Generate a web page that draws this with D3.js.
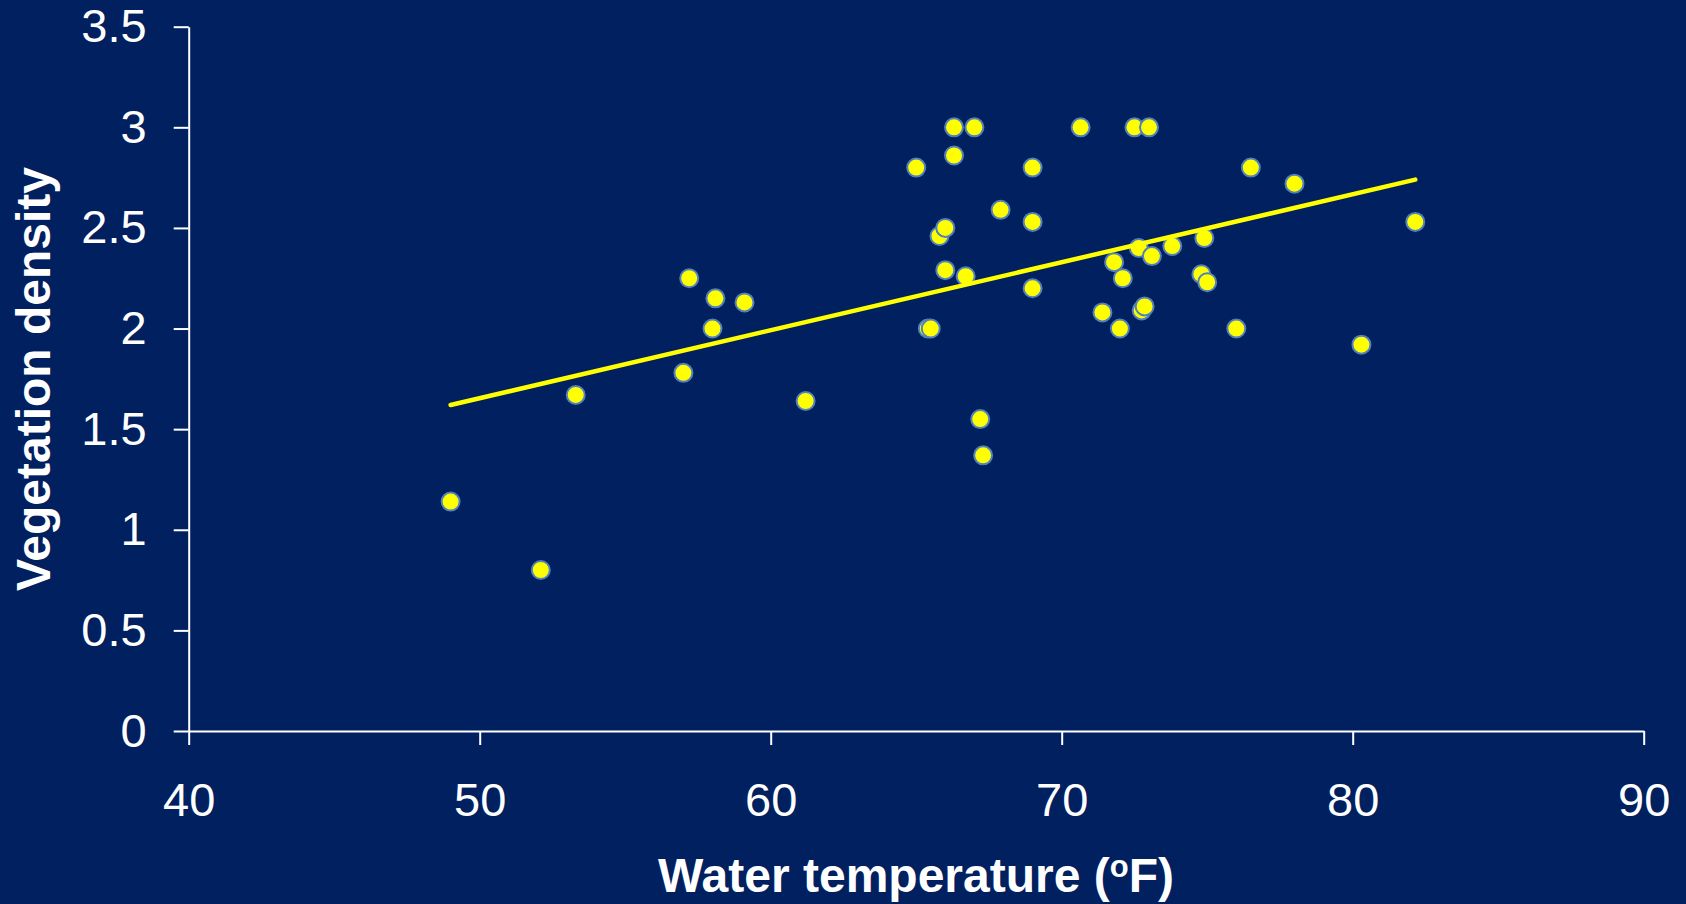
<!DOCTYPE html>
<meta charset="utf-8">
<script src="https://d3js.org/d3.v7.min.js"></script>
<style>
    body { margin: 0; background: #002060; }
    text { font-family: "Liberation Sans", Arial, sans-serif; fill: #ffffff; }
</style>

<svg width=1686 height=904></svg>

<script>
    // water temperature (F) and vegetation density
    var temps = [49.0, 52.1, 53.3, 57.0, 57.2, 58.0, 58.1, 59.1, 61.2,
        65.0, 65.4, 65.5, 65.8, 66.0, 66.0, 66.3, 66.3, 66.7, 67.0, 67.2, 67.3,
        67.9, 69.0, 69.0, 69.0, 70.65, 71.4, 71.8, 72.0, 72.1, 72.5, 72.65,
        72.75, 72.85, 73.0, 73.1, 73.8, 74.8, 74.9, 75.0, 76.0, 76.5, 78.0,
        80.3, 82.15];
    var density = [1.14, 0.80, 1.67, 1.78, 2.25, 2.00, 2.15, 2.13, 1.64,
        2.80, 2.00, 2.00, 2.46, 2.50, 2.29, 3.00, 2.86, 2.26, 3.00, 1.55, 1.37,
        2.59, 2.80, 2.53, 2.20, 3.00, 2.08, 2.33, 2.00, 2.25, 3.00, 2.40,
        2.09, 2.11, 3.00, 2.36, 2.41, 2.27, 2.45, 2.23, 2.00, 2.80, 2.72,
        1.92, 2.53];

    // linear trend line end points
    var trendX = [49.0, 82.15];
    var trendY = [1.62, 2.74];

    var xTicks = [40, 50, 60, 70, 80, 90];
    var yTicks = [0, 0.5, 1, 1.5, 2, 2.5, 3, 3.5];

    var plotLeft = 188.7, plotRight = 1643.7, plotTop = 26.7, plotBottom = 731;

    var x = d3.scaleLinear().domain([40, 90]).range([plotLeft, plotRight]);
    var y = d3.scaleLinear().domain([0, 3.5]).range([plotBottom, plotTop]);

    var svg = d3.select("svg");

    svg.append("rect")
        .attr("width", 1686)
        .attr("height", 904)
        .attr("fill", "#002060");

    svg.append("g")
        .attr("transform", "translate(" + plotLeft + ",0)")
        .call(d3.axisLeft(y)
            .tickValues(yTicks)
            .tickFormat(function(d) { return d; })
            .tickSize(15)
            .tickSizeOuter(0)
            .tickPadding(27));

    svg.append("g")
        .attr("transform", "translate(0," + plotBottom + ")")
        .call(d3.axisBottom(x)
            .tickValues(xTicks)
            .tickSize(14)
            .tickSizeOuter(0)
            .tickPadding(38));

    svg.selectAll(".domain, .tick line")
        .attr("stroke", "#ffffff")
        .attr("stroke-width", 2);
    svg.selectAll(".tick text")
        .attr("fill", "#ffffff")
        .style("font-family", "'Liberation Sans', Arial, sans-serif")
        .style("font-size", "47px");

    svg.selectAll("circle.pt")
        .data(temps)
        .enter()
        .append("circle")
        .attr("class", "pt")
        .attr("cx", function(d) { return x(d); })
        .attr("cy", function(d, i) { return y(density[i]); })
        .attr("r", 9)
        .attr("fill", "#ffff00")
        .attr("stroke", "#4f81bd")
        .attr("stroke-width", 2);

    var line = d3.line()
        .x(function(d) { return x(d); })
        .y(function(d, i) { return y(trendY[i]); });

    svg.append("path")
        .attr("d", line(trendX))
        .attr("fill", "none")
        .attr("stroke", "#ffff00")
        .attr("stroke-width", 4.5)
        .attr("stroke-linecap", "round");

    var xTitle = svg.append("text")
        .attr("x", 916)
        .attr("y", 892)
        .attr("text-anchor", "middle")
        .style("font-size", "48px")
        .style("font-weight", "bold");
    xTitle.append("tspan").text("Water temperature (");
    xTitle.append("tspan").attr("dy", -15).style("font-size", "31px").text("o");
    xTitle.append("tspan").attr("dy", 15).text("F)");

    svg.append("text")
        .attr("transform", "translate(50,379) rotate(-90)")
        .attr("text-anchor", "middle")
        .style("font-size", "48px")
        .style("font-weight", "bold")
        .text("Vegetation density");
</script>
